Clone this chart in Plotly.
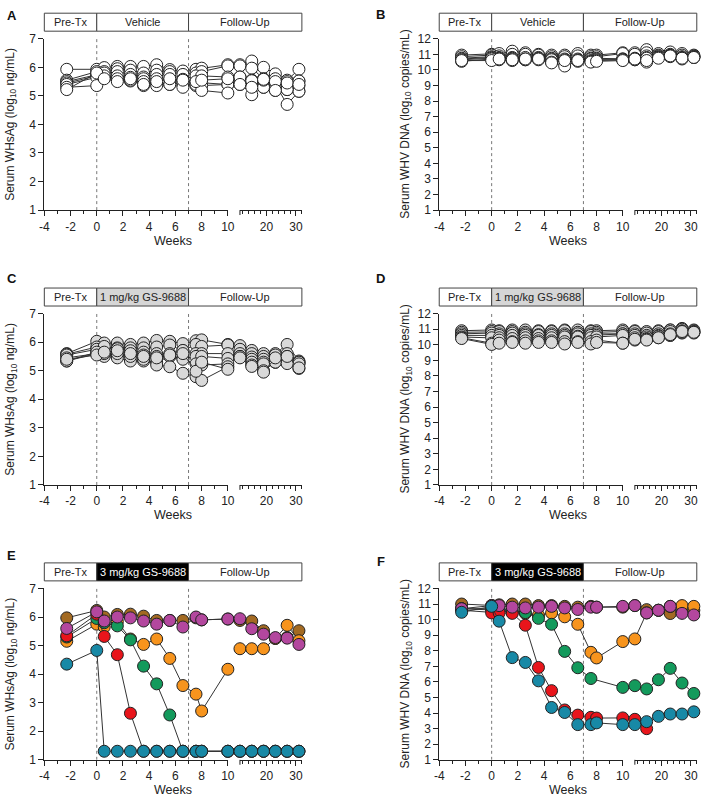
import plotly.graph_objects as go

W, H = 709, 808
FONT = "Liberation Sans, Arial, sans-serif"

weeks_left = [-2.29, 0, 0.57, 1.57, 2.57, 3.57, 4.57, 5.57, 6.57, 7.57, 8, 10]
weeks_right = [11, 15, 19, 23, 27, 31]
left_ticks = [-4, -2, 0, 2, 4, 6, 8, 10]
left_ticktext = ["-4", "-2", "0", "2", "4", "6", "8", "10"]

# Panel A: vehicle, WHsAg
A_series = [
    [5.93, 5.93, 5.99, 6.03, 6.03, 6.03, 6.09, 5.92, 5.87, 5.93, 5.97, 6.09, 6.09, 6.22, 6.00, 5.77, 5.55, 5.93],
    [5.55, 5.85, 5.85, 5.95, 5.90, 5.80, 5.90, 5.85, 5.75, 5.80, 5.85, 6.05, 6.05, 5.97, 5.60, 5.60, 5.50, 5.52],
    [5.50, 5.76, 5.80, 5.85, 5.75, 5.66, 5.75, 5.75, 5.58, 5.70, 5.70, 5.66, 5.66, 5.55, 5.58, 5.44, 5.40, 5.36],
    [5.45, 5.70, 5.64, 5.70, 5.65, 5.60, 5.60, 5.58, 5.50, 5.47, 5.47, 5.40, 5.40, 5.47, 5.30, 5.19, 5.22, 5.16],
    [5.40, 5.65, 5.65, 5.55, 5.52, 5.50, 5.45, 5.40, 5.45, 5.36, 5.36, 5.40, 5.45, 5.04, 5.30, 5.40, 4.70, 5.16],
    [5.30, 5.36, 5.70, 5.60, 5.55, 5.36, 5.36, 5.40, 5.30, 5.40, 5.19, 5.10, 5.66, 5.53, 5.55, 5.50, 5.22, 5.52],
    [5.22, 5.80, 5.60, 5.50, 5.60, 5.40, 5.50, 5.60, 5.55, 5.50, 5.55, 5.60, 5.40, 5.30, 5.58, 5.19, 5.45, 5.40],
]
# Panel B: vehicle, WHV DNA
B_series = [
    [10.95, 11.00, 11.05, 11.20, 11.10, 11.00, 10.95, 10.90, 11.05, 10.95, 10.95, 11.10, 11.10, 11.30, 11.05, 11.15, 11.05, 10.95],
    [10.85, 10.95, 10.90, 11.00, 11.00, 10.95, 10.85, 10.95, 10.90, 10.85, 10.85, 11.05, 11.00, 11.10, 10.95, 11.00, 10.95, 10.90],
    [10.75, 10.85, 10.80, 10.80, 10.80, 10.80, 10.75, 10.85, 10.70, 10.75, 10.75, 10.70, 10.75, 10.90, 10.90, 10.95, 10.85, 10.85],
    [10.70, 10.80, 10.75, 10.75, 10.70, 10.75, 10.70, 10.70, 10.65, 10.70, 10.70, 10.70, 10.70, 10.80, 10.85, 10.90, 10.80, 10.80],
    [10.65, 10.75, 10.70, 10.70, 10.65, 10.70, 10.65, 10.65, 10.60, 10.60, 10.65, 10.65, 10.65, 10.75, 10.80, 10.90, 10.75, 10.85],
    [10.55, 10.70, 10.65, 10.60, 10.65, 10.65, 10.50, 10.25, 10.55, 10.55, 10.60, 10.65, 10.65, 10.50, 10.80, 10.85, 10.70, 10.80],
    [10.60, 10.60, 10.70, 10.65, 10.70, 10.70, 10.45, 10.60, 10.60, 10.50, 10.55, 10.60, 10.70, 10.60, 10.75, 10.90, 10.75, 10.80],
]
# Panel C: 1 mg/kg, WHsAg
C_series = [
    [5.60, 6.03, 5.97, 5.97, 5.92, 5.97, 6.06, 6.03, 5.95, 6.05, 6.08, 5.92, 5.88, 5.71, 5.60, 5.60, 5.92, 5.34],
    [5.58, 5.83, 5.77, 5.80, 5.80, 5.80, 5.83, 5.90, 5.70, 5.92, 5.85, 5.90, 5.75, 5.60, 5.50, 5.55, 5.60, 5.30],
    [5.55, 5.75, 5.85, 5.77, 5.70, 5.65, 5.60, 5.60, 5.71, 5.60, 5.60, 5.60, 5.60, 5.48, 5.40, 5.43, 5.50, 5.24],
    [5.45, 5.60, 5.56, 5.53, 5.55, 5.55, 5.50, 5.50, 5.43, 5.50, 5.50, 5.43, 5.50, 5.40, 5.30, 5.30, 5.43, 5.30],
    [5.34, 5.60, 5.50, 5.45, 5.34, 5.34, 5.30, 5.50, 5.40, 5.24, 5.20, 5.24, 5.48, 5.30, 5.24, 5.30, 5.30, 5.24],
    [5.34, 5.65, 5.60, 5.60, 5.50, 5.40, 5.20, 5.14, 4.91, 4.79, 4.66, 5.14, 5.50, 5.20, 5.00, 5.30, 5.25, 5.08],
    [5.40, 5.55, 5.65, 5.70, 5.60, 5.50, 5.45, 5.55, 5.60, 4.98, 5.30, 5.05, 5.45, 5.15, 4.95, 5.45, 5.50, 5.10],
]
# Panel D: 1 mg/kg, WHV DNA
D_series = [
    [10.90, 10.95, 10.90, 10.95, 10.95, 10.90, 10.90, 10.95, 10.95, 10.90, 10.90, 10.95, 10.90, 10.85, 10.90, 10.95, 11.05, 10.95],
    [10.80, 10.85, 10.85, 10.85, 10.80, 10.85, 10.85, 10.90, 10.80, 10.85, 10.80, 10.85, 10.85, 10.75, 10.85, 10.95, 11.00, 10.90],
    [10.70, 10.75, 10.70, 10.75, 10.70, 10.65, 10.70, 10.70, 10.70, 10.70, 10.70, 10.70, 10.70, 10.60, 10.70, 10.85, 10.90, 10.85],
    [10.60, 10.60, 10.60, 10.60, 10.60, 10.60, 10.60, 10.60, 10.55, 10.60, 10.60, 10.70, 10.60, 10.50, 10.60, 10.70, 10.85, 10.80],
    [10.50, 10.45, 10.45, 10.40, 10.45, 10.40, 10.45, 10.50, 10.50, 10.45, 10.50, 10.60, 10.45, 10.40, 10.55, 10.60, 10.75, 10.80],
    [10.45, 10.10, 10.30, 10.20, 10.25, 10.25, 10.25, 10.20, 10.20, 10.20, 10.30, 10.10, 10.30, 10.35, 10.45, 10.60, 10.80, 10.75],
    [10.40, 10.02, 10.10, 10.15, 10.10, 10.15, 10.15, 10.05, 10.15, 10.05, 10.15, 10.10, 10.35, 10.30, 10.45, 10.65, 10.85, 10.80],
]
# Panels E/F: 3 mg/kg, individual animals (brown, orange, green, red, magenta, blue)
animal_colors = ["#A36A22", "#F7941D", "#139A5C", "#E8151B", "#B3479E", "#1889A6"]
E_series = [
    [5.97, 6.23, 6.00, 6.09, 6.10, 6.03, 5.88, 5.88, 5.88, 5.97, 5.90, 5.93, 5.88, 5.86, 5.52, 5.25, 5.28, 5.52],
    [5.15, 5.75, 5.65, 5.84, 5.23, 5.04, 5.23, 4.55, 3.60, 3.30, 2.71, 4.17, 4.89, 4.89, 4.89, 5.25, 5.71, 5.17],
    [5.30, 5.95, 5.80, 5.69, 5.20, 4.28, 3.66, 2.57, 1.30, 1.30, 1.30, 1.30, 1.30, 1.30, 1.30, 1.30, 1.30, 1.30],
    [5.34, 6.10, 5.32, 4.68, 2.63, 1.30, 1.30, 1.30, 1.30, 1.30, 1.30, 1.30, 1.30, 1.30, 1.30, 1.30, 1.30, 1.30],
    [5.60, 6.18, 5.86, 6.00, 5.97, 5.86, 5.75, 5.88, 5.65, 6.00, 5.90, 5.93, 5.94, 5.59, 5.40, 5.28, 5.26, 5.04],
    [4.35, 4.83, 1.30, 1.30, 1.30, 1.30, 1.30, 1.30, 1.30, 1.30, 1.30, 1.30, 1.30, 1.30, 1.30, 1.30, 1.30, 1.30],
]
F_series = [
    [11.00, 10.91, 10.95, 11.00, 11.00, 10.90, 10.90, 10.85, 10.80, 10.85, 10.80, 10.80, 10.90, 10.64, 10.60, 10.39, 10.50, 10.60],
    [10.70, 10.60, 10.60, 10.45, 10.40, 10.28, 10.43, 10.18, 9.70, 7.90, 7.54, 8.59, 8.76, 10.43, 10.60, 10.85, 10.90, 10.85],
    [10.70, 10.70, 10.65, 10.60, 10.45, 10.08, 9.70, 7.96, 6.91, 6.22, None, 5.65, 5.76, 5.55, 6.14, 6.87, 5.93, 5.26],
    [10.60, 10.43, 10.43, 10.40, 9.64, 6.93, 5.44, 4.20, 3.87, 3.73, 3.68, 3.69, 3.60, 3.00, None, None, None, None],
    [10.70, 10.90, 10.90, 10.80, 10.75, 10.80, 10.85, 10.75, 10.65, 10.80, 10.80, 10.85, 10.90, 10.43, 10.60, 10.85, 10.40, 10.30],
    [10.47, 10.85, 9.90, 7.56, 7.25, 6.07, 4.36, 4.04, 3.26, 3.26, 3.37, 3.26, 3.26, 3.45, 3.79, 3.94, 3.94, 4.08],
]

panels = [
    dict(letter="A", data=A_series, colors=["white"] * 7, yr=[1, 7], ytitle="Serum WHsAg (log<sub>10</sub> ng/mL)",
         treat="Vehicle", tfill="white", tfont="#222"),
    dict(letter="B", data=B_series, colors=["white"] * 7, yr=[1, 12], ytitle="Serum WHV DNA (log<sub>10</sub> copies/mL)",
         treat="Vehicle", tfill="white", tfont="#222"),
    dict(letter="C", data=C_series, colors=["#D9D9D9"] * 7, yr=[1, 7], ytitle="Serum WHsAg (log<sub>10</sub> ng/mL)",
         treat="1 mg/kg GS-9688", tfill="#D6D6D6", tfont="#222"),
    dict(letter="D", data=D_series, colors=["#D9D9D9"] * 7, yr=[1, 12], ytitle="Serum WHV DNA (log<sub>10</sub> copies/mL)",
         treat="1 mg/kg GS-9688", tfill="#D6D6D6", tfont="#222"),
    dict(letter="E", data=E_series, colors=animal_colors, yr=[1, 7], ytitle="Serum WHsAg (log<sub>10</sub> ng/mL)",
         treat="3 mg/kg GS-9688", tfill="black", tfont="white"),
    dict(letter="F", data=F_series, colors=animal_colors, yr=[1, 12], ytitle="Serum WHV DNA (log<sub>10</sub> copies/mL)",
         treat="3 mg/kg GS-9688", tfill="black", tfont="white"),
]

# pixel geometry
col_off = [0, 401.7]
row_off = [0, 279.7, 559.4]
LX0, LX1 = 40.0, 226.7
RX0, RX1 = 239.0, 302.0
PY0, PY1 = 32.3, 206.7
letter_pos = [(7, 9), (382, 8), (7, 276), (382, 276), (7, 558), (382, 564)]

def px(x):
    return x / W

def py(y):
    return 1 - y / H

def ax_name(kind, i):
    return f"{kind}axis" if i == 1 else f"{kind}axis{i}"

def ref(kind, i):
    return kind if i == 1 else f"{kind}{i}"

fig = go.Figure()
layout = {}
shapes = []
annotations = []
AXC = "#222"
common = dict(showline=True, linecolor=AXC, linewidth=1, ticks="outside", ticklen=5, tickwidth=1,
              tickcolor=AXC, showgrid=False, zeroline=False, fixedrange=True,
              tickfont=dict(family=FONT, size=12, color="#222"))

for p, pan in enumerate(panels):
    r, c = p // 2, p % 2
    ox, oy = col_off[c], row_off[r]
    yi, xl, xr = p + 1, 2 * p + 1, 2 * p + 2
    lx0, lx1 = LX0 + ox, LX1 + ox
    rx0, rx1 = RX0 + ox, RX1 + ox
    y0, y1 = PY0 + oy, PY1 + oy

    layout[ax_name("x", xl)] = dict(domain=[px(lx0), px(lx1)], range=[-4, 10], anchor=ref("y", yi),
                                    tickvals=left_ticks, ticktext=left_ticktext,
                                    minor=dict(dtick=1, tick0=0, ticks="outside", ticklen=3, tickcolor=AXC),
                                    **common)
    layout[ax_name("x", xr)] = dict(domain=[px(rx0), px(rx1)], range=[11, 32], anchor=ref("y", yi),
                                    tickvals=[20, 30], ticktext=["20", "30"],
                                    minor=dict(dtick=2, tick0=0, ticks="outside", ticklen=3, tickcolor=AXC),
                                    **common)
    layout[ax_name("y", yi)] = dict(domain=[py(y1), py(y0)], range=pan["yr"], anchor=ref("x", xl),
                                    dtick=1, tick0=0, **common)

    # break mark at start of right segment
    shapes.append(dict(type="line", xref="paper", yref="paper", x0=px(rx0), x1=px(rx0),
                       y0=py(y1), y1=py(y1 + 5), line=dict(color=AXC, width=1)))

    # dotted treatment lines at week 0 and week 7
    for wk in (0, 7):
        shapes.append(dict(type="line", xref=ref("x", xl), yref=ref("y", yi), x0=wk, x1=wk,
                           y0=pan["yr"][0], y1=pan["yr"][1], layer="below",
                           line=dict(color="#777", width=1, dash="dot")))

    # header boxes
    def xpix(w):
        return lx0 + (w + 4) / 14 * (lx1 - lx0)
    hy0, hy1 = y0 - 26, y0 - 7.7
    cells = [(lx0, xpix(0), "Pre-Tx", "white", "#222"),
             (xpix(0), xpix(7), pan["treat"], pan["tfill"], pan["tfont"]),
             (xpix(7), rx1, "Follow-Up", "white", "#222")]
    for (a, b, txt, fill, fc) in cells:
        shapes.append(dict(type="rect", xref="paper", yref="paper", x0=px(a), x1=px(b),
                           y0=py(hy1), y1=py(hy0), fillcolor=fill, line=dict(color="#444", width=1)))
        annotations.append(dict(xref="paper", yref="paper", x=px((a + b) / 2), y=py((hy0 + hy1) / 2),
                                text=txt, showarrow=False, xanchor="center", yanchor="middle",
                                font=dict(family=FONT, size=11, color=fc)))

    # axis titles
    annotations.append(dict(xref="paper", yref="paper", x=px(ox + 6.5), y=py((y0 + y1) / 2),
                            text=pan["ytitle"], textangle=-90, showarrow=False,
                            xanchor="center", yanchor="middle",
                            font=dict(family=FONT, size=12, color="#222")))
    annotations.append(dict(xref="paper", yref="paper", x=px((lx0 + rx1) / 2), y=py(y1 + 31),
                            text="Weeks", showarrow=False, xanchor="center", yanchor="middle",
                            font=dict(family=FONT, size=12.5, color="#222")))
    lx, ly = letter_pos[p]
    annotations.append(dict(xref="paper", yref="paper", x=px(lx), y=py(ly),
                            text=f"<b>{pan['letter']}</b>", showarrow=False,
                            xanchor="center", yanchor="middle",
                            font=dict(family=FONT, size=13, color="#111")))

    # data traces
    for s, vals in enumerate(pan["data"]):
        col = pan["colors"][s]
        mk = dict(size=12, color=col, line=dict(color="#222", width=1))
        ln = dict(color="#333", width=1)
        fig.add_trace(go.Scatter(x=weeks_left, y=vals[:12], mode="lines+markers", marker=mk, line=ln,
                                 connectgaps=True, cliponaxis=False, showlegend=False,
                                 xaxis=ref("x", xl), yaxis=ref("y", yi)))
        fig.add_trace(go.Scatter(x=weeks_right, y=vals[12:], mode="lines+markers", marker=mk, line=ln,
                                 connectgaps=False, cliponaxis=False, showlegend=False,
                                 xaxis=ref("x", xr), yaxis=ref("y", yi)))

fig.update_layout(width=W, height=H, margin=dict(l=0, r=0, t=0, b=0),
                  paper_bgcolor="white", plot_bgcolor="white",
                  font=dict(family=FONT, size=12, color="#222"),
                  shapes=shapes, annotations=annotations, showlegend=False, **layout)

fig.write_html("out.html", config={"displayModeBar": False},
               post_script="document.body.style.margin='0';document.body.style.padding='0';"
                           "document.body.style.overflow='hidden';")
